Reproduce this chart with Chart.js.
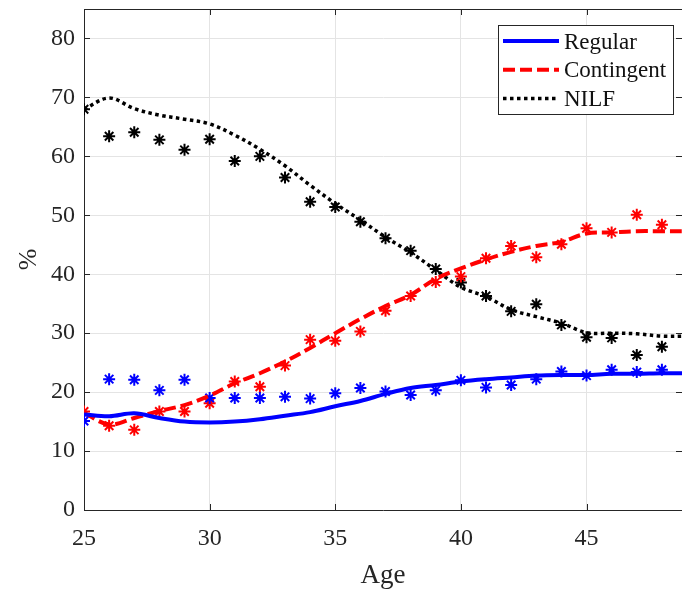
<!DOCTYPE html>
<html>
<head>
<meta charset="utf-8">
<script src="https://cdn.jsdelivr.net/npm/chart.js@4/dist/chart.umd.min.js"></script>
<style>
    html, body { margin: 0; padding: 0; background: #fff; }
    #wrap { width: 682px; height: 591px; }
</style>
</head>
<body>
<div id="wrap"><canvas id="chart" width="682" height="591"></canvas></div>
<script>
    // observed ages (asterisks) and fitted ages (lines run on to the right edge)
    var ages = [25, 26, 27, 28, 29, 30, 31, 32, 33, 34, 35, 36, 37, 38, 39, 40, 41, 42, 43, 44, 45, 46, 47, 48];
    var fitAges = [25, 26, 27, 28, 29, 30, 31, 32, 33, 34, 35, 36, 37, 38, 39, 40, 41, 42, 43, 44, 45, 46, 47, 48, 49];

    var seriesNames = ['Regular', 'Contingent', 'NILF'];

    var regularFit = [16.2, 15.9, 16.4, 15.6, 15.0, 14.85, 15.0, 15.4, 16.0, 16.6, 17.6, 18.5, 19.7, 20.7, 21.2, 21.8, 22.2, 22.5, 22.8, 22.9, 22.9, 23.1, 23.1, 23.2, 23.2];
    var contingentFit = [16.5, 14.5, 15.6, 16.8, 17.8, 19.4, 21.5, 23.2, 25.2, 27.5, 30.0, 32.4, 34.6, 36.5, 39.2, 41.0, 42.5, 43.8, 44.8, 45.5, 46.9, 47.1, 47.3, 47.3, 47.3];
    var nilfFit = [68.0, 69.9, 68.1, 67.0, 66.3, 65.5, 63.6, 61.2, 58.4, 55.1, 52.0, 49.2, 46.3, 43.7, 40.7, 37.8, 36.2, 34.0, 32.8, 31.7, 30.1, 30.0, 29.9, 29.5, 29.5];

    var regularObs = [15.1, 22.2, 22.1, 20.3, 22.1, 19.0, 19.0, 19.0, 19.2, 18.9, 19.8, 20.7, 20.1, 19.5, 20.3, 22.0, 20.8, 21.2, 22.2, 23.5, 22.8, 23.8, 23.4, 23.8];
    var contingentObs = [16.7, 14.3, 13.6, 16.7, 16.7, 18.1, 21.8, 20.9, 24.5, 28.9, 28.7, 30.3, 33.8, 36.3, 38.7, 39.6, 42.7, 44.8, 42.9, 45.1, 47.8, 47.1, 50.1, 48.4];
    var nilfObs = [68.0, 63.4, 64.1, 62.8, 61.1, 62.9, 59.2, 60.0, 56.4, 52.3, 51.4, 48.9, 46.1, 44.0, 40.9, 38.6, 36.3, 33.7, 34.9, 31.4, 29.3, 29.2, 26.3, 27.7];

    var xTicks = [25, 30, 35, 40, 45];
    var yTicks = [0, 10, 20, 30, 40, 50, 60, 70, 80];

    var serif = "'Liberation Serif', 'Times New Roman', serif";
    var axisColor = '#262626';

    function toPoints(xs, ys) {
        var ret = [];
        for (var i = 0; i < xs.length; i++) {
            ret.push({ x: xs[i], y: ys[i] });
        }
        return ret;
    }

    function fitLine(label, xs, ys, color, width, dash) {
        return {
            label: label,
            data: toPoints(xs, ys),
            borderColor: color,
            backgroundColor: color,
            borderWidth: width,
            borderDash: dash,
            borderCapStyle: 'butt',
            pointRadius: 0,
            tension: 0.35,
            fill: false,
            isFit: true
        };
    }

    function markers(xs, ys, color) {
        return {
            label: '',
            data: toPoints(xs, ys),
            showLine: false,
            pointStyle: 'star',
            pointRadius: 6,
            pointBorderWidth: 2,
            pointBorderColor: color,
            pointBackgroundColor: color,
            borderColor: color
        };
    }

    function fixTicks(values) {
        return function (scale) {
            scale.ticks = values.map(function (v) { return { value: v }; });
        };
    }

    // frame, inward tick marks and the boxed legend
    var framePlugin = {
        id: 'frame',
        afterDraw: function (chart) {
            var ctx = chart.ctx;
            var a = chart.chartArea;
            var xs = chart.scales.x;
            var ys = chart.scales.y;
            var tl = 6;
            ctx.save();
            ctx.strokeStyle = axisColor;
            ctx.lineWidth = 1;
            ctx.beginPath();
            ctx.moveTo(a.left, a.top + 0.5);
            ctx.lineTo(a.right, a.top + 0.5);
            xTicks.forEach(function (v) {
                var px = Math.round(xs.getPixelForValue(v)) + 0.5;
                ctx.moveTo(px, a.bottom);
                ctx.lineTo(px, a.bottom - tl);
                ctx.moveTo(px, a.top);
                ctx.lineTo(px, a.top + tl);
            });
            yTicks.forEach(function (v) {
                var py = Math.round(ys.getPixelForValue(v)) + 0.5;
                ctx.moveTo(a.left, py);
                ctx.lineTo(a.left + tl, py);
                ctx.moveTo(a.right, py);
                ctx.lineTo(a.right - tl, py);
            });
            ctx.stroke();

            // legend
            var bx = 498.5, by = 25.5, bw = 175, bh = 89;
            ctx.fillStyle = '#fff';
            ctx.fillRect(bx, by, bw, bh);
            ctx.strokeRect(bx, by, bw, bh);
            var fits = chart.data.datasets.filter(function (d) { return d.isFit; });
            fits.forEach(function (d, i) {
                var ry = 41 + i * 28.8;
                ctx.beginPath();
                ctx.strokeStyle = d.borderColor;
                ctx.lineWidth = d.borderWidth;
                ctx.lineCap = 'butt';
                ctx.setLineDash(d.borderDash || []);
                ctx.moveTo(503, ry);
                ctx.lineTo(559, ry);
                ctx.stroke();
                ctx.setLineDash([]);
                ctx.fillStyle = '#111';
                ctx.font = '23px ' + serif;
                ctx.textBaseline = 'middle';
                ctx.textAlign = 'left';
                ctx.fillText(d.label, 564, ry + 1.5);
            });
            ctx.restore();
        }
    };

    var ctx = document.getElementById('chart').getContext('2d');
    var chart = new Chart(ctx, {
        type: 'line',
        data: {
            datasets: [
                fitLine(seriesNames[0], fitAges, regularFit, '#0000ff', 4, []),
                fitLine(seriesNames[1], fitAges, contingentFit, '#ff0000', 4, [12, 5]),
                fitLine(seriesNames[2], fitAges, nilfFit, '#000000', 3.5, [3.5, 3.5]),
                markers(ages, regularObs, '#0000ff'),
                markers(ages, contingentObs, '#ff0000'),
                markers(ages, nilfObs, '#000000')
            ]
        },
        options: {
            responsive: false,
            animation: false,
            devicePixelRatio: 1,
            layout: { autoPadding: false, padding: { top: 9, right: 0, bottom: 0, left: 0 } },
            plugins: {
                legend: { display: false },
                tooltip: { enabled: false }
            },
            scales: {
                x: {
                    type: 'linear',
                    min: 25,
                    max: 48.8,
                    afterBuildTicks: fixTicks(xTicks),
                    afterFit: function (scale) {
                        scale.height = 81;
                        scale.paddingLeft = 0;
                        scale.paddingRight = 0;
                    },
                    grid: { color: '#e4e4e4', drawTicks: false },
                    border: { display: true, color: axisColor, width: 1 },
                    ticks: {
                        padding: 14,
                        maxRotation: 0,
                        color: axisColor,
                        font: { family: serif, size: 24 }
                    },
                    title: {
                        display: true,
                        text: 'Age',
                        color: axisColor,
                        font: { family: serif, size: 27 },
                        padding: { top: 0, bottom: -1 }
                    }
                },
                y: {
                    type: 'linear',
                    min: 0,
                    max: 85,
                    afterBuildTicks: fixTicks(yTicks),
                    afterFit: function (scale) {
                        scale.width = 84;
                        scale.paddingTop = 0;
                        scale.paddingBottom = 0;
                    },
                    grid: { color: '#e4e4e4', drawTicks: false },
                    border: { display: true, color: axisColor, width: 1 },
                    ticks: {
                        padding: 9,
                        color: axisColor,
                        font: { family: serif, size: 24 }
                    },
                    title: {
                        display: true,
                        text: '%',
                        color: axisColor,
                        font: { family: serif, size: 26 },
                        padding: { top: 14, bottom: 0 }
                    }
                }
            }
        },
        plugins: [framePlugin]
    });
</script>
</body>
</html>
